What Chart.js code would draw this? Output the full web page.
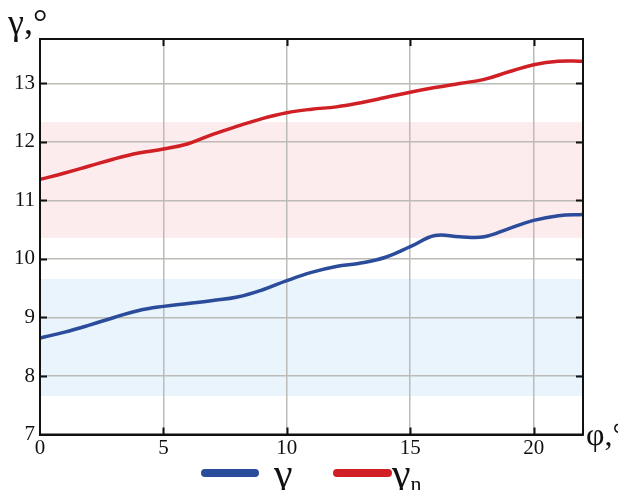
<!DOCTYPE html>
<html>
<head>
<meta charset="utf-8">
<script src="https://cdn.jsdelivr.net/npm/chart.js@4/dist/chart.umd.min.js"></script>
<style>
  html, body { margin: 0; padding: 0; background: #fff; }
  #wrap { position: relative; width: 618px; height: 490px; font-family: "Liberation Serif", "DejaVu Serif", serif; color: #111; }
  #c { position: absolute; left: 0; top: 0; }
  .lbl { position: absolute; white-space: nowrap; line-height: 1; }
  #ylab { left: 8px; top: 4px; font-size: 36px; }
  #xlab { left: 586px; top: 418px; font-size: 32px; }
  .key { position: absolute; height: 8px; border-radius: 4px; }
  .ktxt { position: absolute; font-size: 42px; line-height: 1; }
  .ktxt sub { font-size: 22px; vertical-align: -4px; }
</style>
</head>
<body>
<div id="wrap">
  <canvas id="c" width="618" height="490"></canvas>
  <div class="lbl" id="ylab">γ,°</div>
  <div class="lbl" id="xlab">φ,°</div>
  <div class="key" style="left:201px;top:469px;width:58px;background:#2b4c9b"></div>
  <div class="ktxt" style="left:274px;top:452px">γ</div>
  <div class="key" style="left:333px;top:469px;width:59px;background:#d11f26"></div>
  <div class="ktxt" style="left:392px;top:452px">γ<sub>n</sub></div>
</div>
<script>
// angle φ, degrees
const phi = [0, 1, 2, 3, 4, 5, 6, 7, 8, 9, 10, 11, 12, 13, 14, 15, 16, 17, 18, 19, 20, 21, 22];
// γ, degrees
const gamma = [8.65, 8.75, 8.87, 9.00, 9.12, 9.19, 9.24, 9.29, 9.35, 9.47, 9.63, 9.77, 9.87, 9.93, 10.03, 10.21, 10.40, 10.38, 10.38, 10.52, 10.66, 10.74, 10.76];
// γn, degrees
const gammaN = [11.36, 11.47, 11.59, 11.71, 11.81, 11.88, 11.97, 12.13, 12.27, 12.40, 12.50, 12.56, 12.60, 12.67, 12.76, 12.85, 12.93, 13.00, 13.07, 13.20, 13.32, 13.38, 13.38];

const xTicks = [0, 5, 10, 15, 20];
const yTicks = [7, 8, 9, 10, 11, 12, 13];

// shaded ranges [from, to]
const bandN = [10.36, 12.34];
const band = [7.66, 9.66];

const BLUE = '#2b4c9b';
const RED = '#d11f26';
const SERIF = '"Liberation Serif", "Times New Roman", serif';

const bandsPlugin = {
  id: 'bands',
  beforeDraw(chart) {
    const { ctx, chartArea: a, scales: { y } } = chart;
    ctx.save();
    const fills = [[bandN, '#fdecee'], [band, '#e9f4fd']];
    for (const [b, col] of fills) {
      const y1 = y.getPixelForValue(b[1]);
      const y0 = y.getPixelForValue(b[0]);
      ctx.fillStyle = col;
      ctx.fillRect(a.left, y1, a.right - a.left, y0 - y1);
    }
    ctx.restore();
  }
};

const framePlugin = {
  id: 'frame',
  afterDraw(chart) {
    const { ctx, chartArea: a, scales: { x, y } } = chart;
    ctx.save();
    ctx.strokeStyle = '#111';
    ctx.lineWidth = 2;
    ctx.strokeRect(a.left, a.top, a.right - a.left, a.bottom - a.top);
    const L = 7;
    ctx.beginPath();
    for (const v of yTicks.slice(1)) {
      const py = Math.round(y.getPixelForValue(v)) + 0.5;
      ctx.moveTo(a.left, py); ctx.lineTo(a.left + L, py);
      ctx.moveTo(a.right, py); ctx.lineTo(a.right - L, py);
    }
    for (const v of xTicks.slice(1)) {
      const px = Math.round(x.getPixelForValue(v)) + 0.5;
      ctx.moveTo(px, a.top); ctx.lineTo(px, a.top + L);
      ctx.moveTo(px, a.bottom); ctx.lineTo(px, a.bottom - L);
    }
    ctx.stroke();
    ctx.restore();
  }
};

function draw() {
  Chart.defaults.font.family = SERIF;
  const tickFont = { family: SERIF, size: 21 };
  new Chart(document.getElementById('c'), {
    type: 'line',
    data: {
      datasets: [
        { label: 'γ', data: phi.map((p, i) => ({ x: p, y: gamma[i] })), borderColor: BLUE, borderWidth: 3.5 },
        { label: 'γn', data: phi.map((p, i) => ({ x: p, y: gammaN[i] })), borderColor: RED, borderWidth: 3.5 }
      ]
    },
    options: {
      responsive: false,
      animation: false,
      devicePixelRatio: 1,
      layout: { padding: { left: 0, top: 39, right: 35, bottom: 30.5 } },
      elements: {
        point: { radius: 0 },
        line: { tension: 0.4, fill: false, borderCapStyle: 'round' }
      },
      plugins: { legend: { display: false }, tooltip: { enabled: false } },
      scales: {
        x: {
          type: 'linear', min: 0, max: 22,
          afterBuildTicks: s => { s.ticks = xTicks.map(v => ({ value: v })); },
          afterFit: s => { s.height = 25; },
          grid: { color: '#bcbbb6', lineWidth: 1.5, drawTicks: false },
          border: { color: '#111', width: 2 },
          ticks: { color: '#111', font: tickFont, padding: 1, maxRotation: 0 }
        },
        y: {
          type: 'linear', min: 7, max: 13.76,
          afterBuildTicks: s => { s.ticks = yTicks.map(v => ({ value: v })); },
          afterFit: s => { s.width = 40; },
          grid: { color: '#bcbbb6', lineWidth: 1.5, drawTicks: false },
          border: { color: '#111', width: 2 },
          ticks: { color: '#111', font: tickFont, padding: 5 }
        }
      }
    },
    plugins: [bandsPlugin, framePlugin]
  });
}

if (document.fonts && document.fonts.load) {
  document.fonts.load('21px "Liberation Serif"').then(draw, draw);
} else {
  draw();
}
</script>
</body>
</html>
